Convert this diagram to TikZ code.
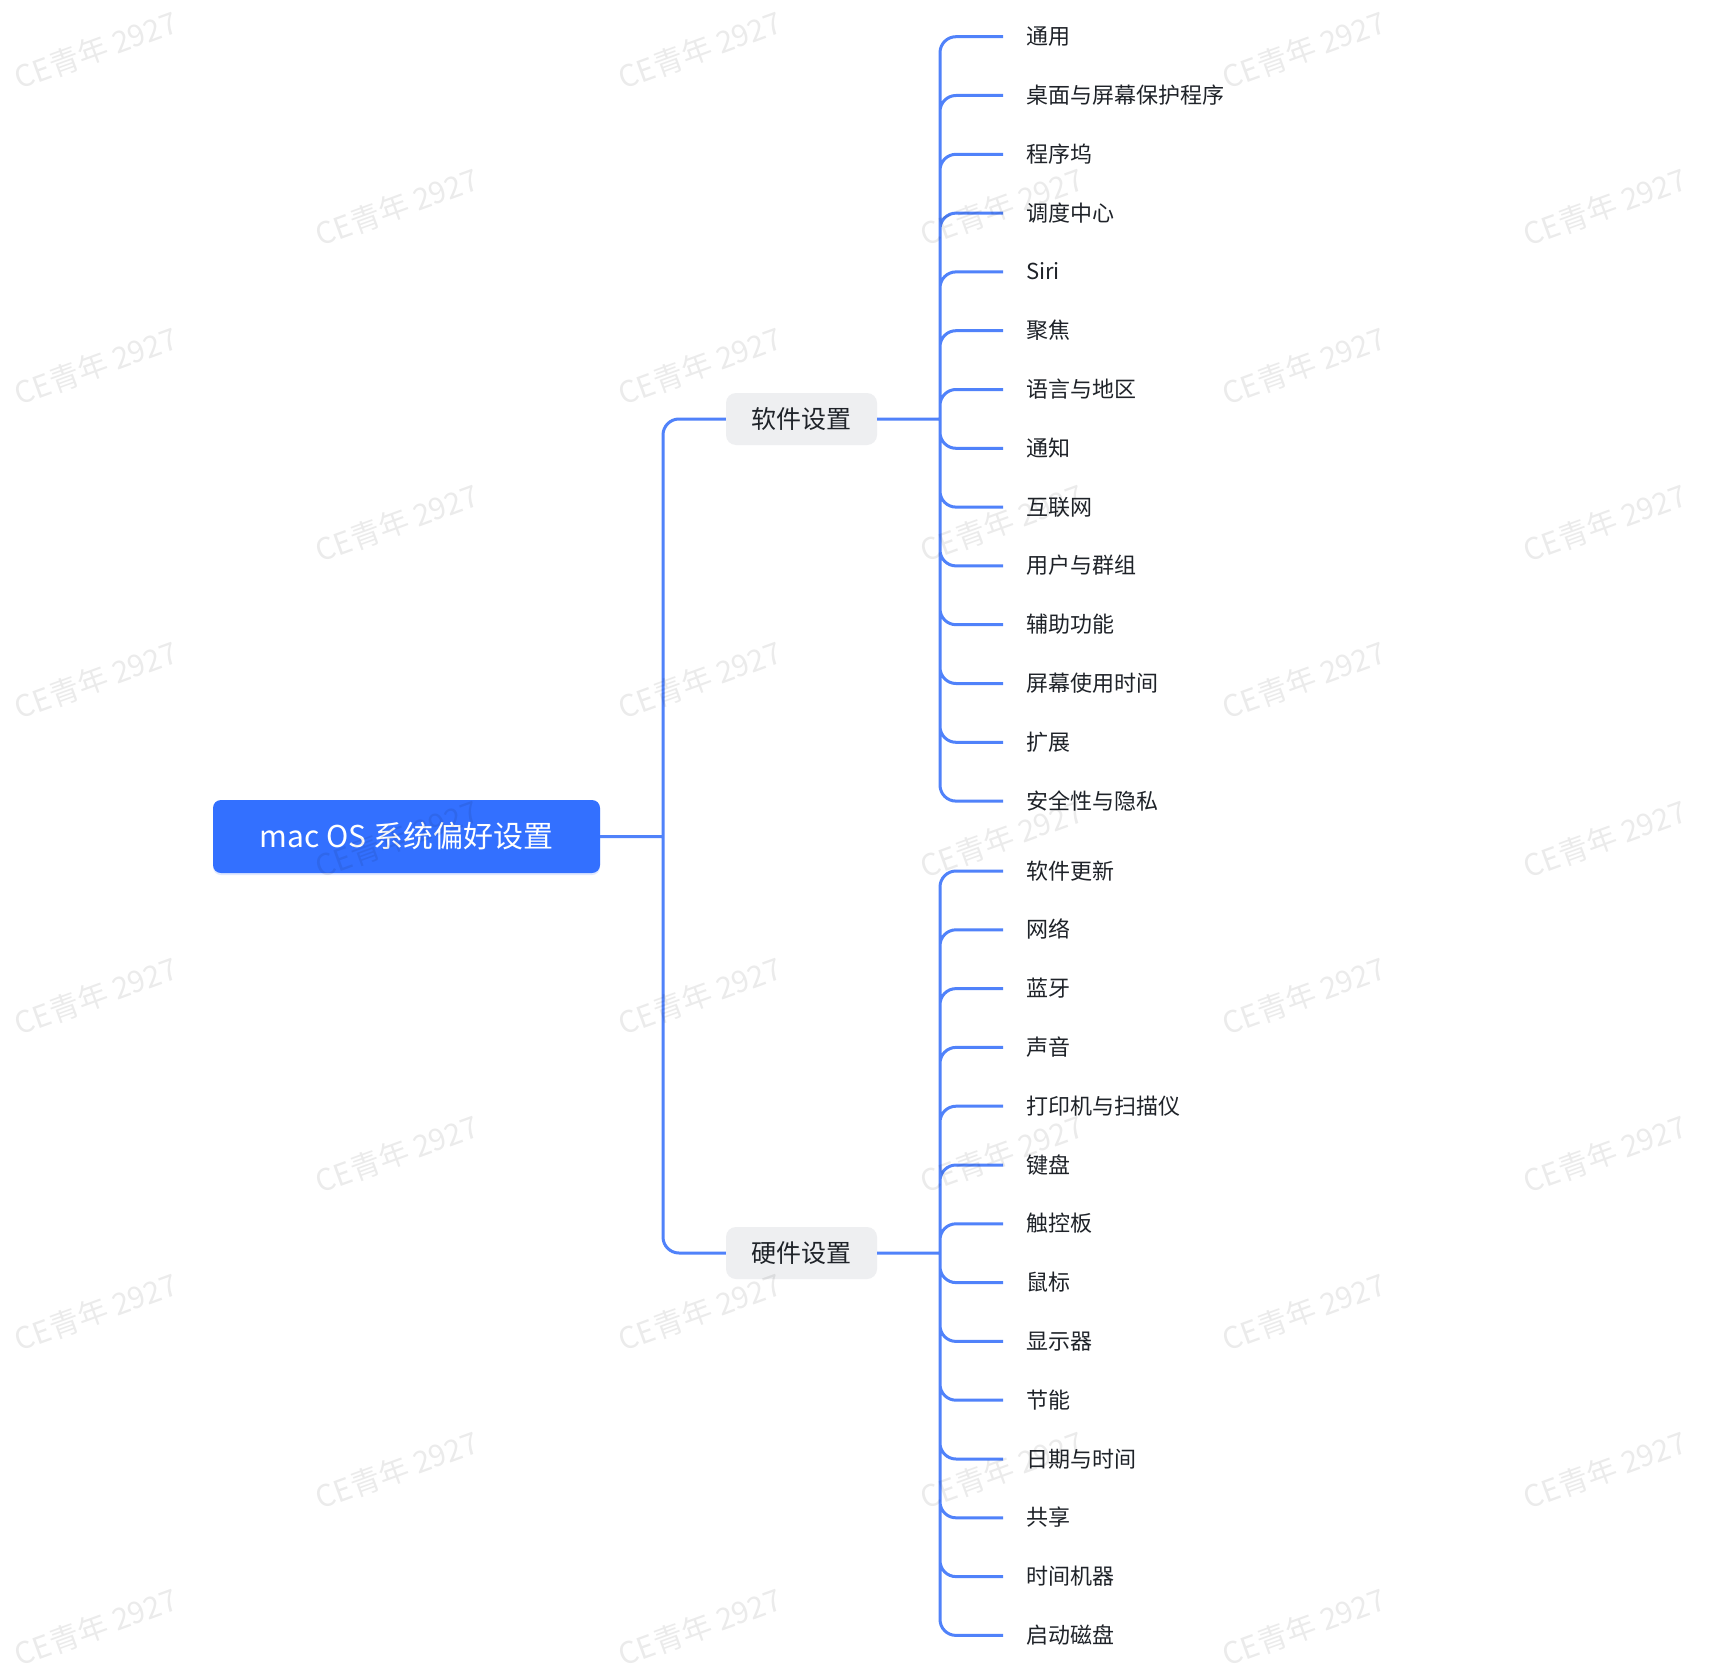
\documentclass[tikz,border=0pt]{standalone}
\usepackage{fontspec}
\setmainfont{Noto Sans CJK SC}
\usetikzlibrary{shadows}
\definecolor{linkblue}{RGB}{80,130,250}
\definecolor{rootblue}{RGB}{51,112,255}
\definecolor{subgray}{RGB}{238,239,241}
\definecolor{inkgray}{RGB}{31,35,41}
\tikzset{
  rootbox/.style={fill=rootblue, text=white, rounded corners=8pt,
    minimum width=387pt, minimum height=73pt, inner sep=0pt,
    font=\fontsize{30}{36}\selectfont,
    drop shadow={shadow xshift=0pt, shadow yshift=-2pt, opacity=0.15, fill=rootblue}},
  subbox/.style={fill=subgray, text=inkgray, rounded corners=10pt,
    minimum width=151pt, minimum height=52pt, inner sep=0pt,
    font=\fontsize{25}{30}\selectfont},
  leaf/.style={anchor=west, inner xsep=23pt, inner ysep=0pt, text=inkgray,
    text height=19pt, text depth=3pt, font=\fontsize{22}{26}\selectfont},
  link/.style={draw=linkblue, line width=3pt, rounded corners=16pt},
  wmark/.style={text=black, opacity=0.08, rotate=20, font=\fontsize{30}{34}\selectfont}
}
\begin{document}
\begin{tikzpicture}[x=1pt, y=-1pt]
  \useasboundingbox[fill=white] (0,0) rectangle (1726,1680);

  \node[rootbox] (mac) at (406.5,836.5) {mac OS 系统偏好设置};
  \node[subbox] (soft) at (801.5,419) {软件设置};
  \node[subbox] (hard) at (801.5,1253) {硬件设置};
  \coordinate (rj) at (663,836.5);
  \coordinate (sj) at (940,419);
  \coordinate (hj) at (940,1253);

  % software
  \node[leaf] (S1) at (1003,36.7) {通用};
  \node[leaf] (S2) at (1003,95.5) {桌面与屏幕保护程序};
  \node[leaf] (S3) at (1003,154.3) {程序坞};
  \node[leaf] (S4) at (1003,213.1) {调度中心};
  \node[leaf] (S5) at (1003,271.9) {Siri};
  \node[leaf] (S6) at (1003,330.7) {聚焦};
  \node[leaf] (S7) at (1003,389.5) {语言与地区};
  \node[leaf] (S8) at (1003,448.3) {通知};
  \node[leaf] (S9) at (1003,507.1) {互联网};
  \node[leaf] (S10) at (1003,565.9) {用户与群组};
  \node[leaf] (S11) at (1003,624.7) {辅助功能};
  \node[leaf] (S12) at (1003,683.5) {屏幕使用时间};
  \node[leaf] (S13) at (1003,742.3) {扩展};
  \node[leaf] (S14) at (1003,801.1) {安全性与隐私};

  % hardware
  \node[leaf] (H1) at (1003,871) {软件更新};
  \node[leaf] (H2) at (1003,929.8) {网络};
  \node[leaf] (H3) at (1003,988.6) {蓝牙};
  \node[leaf] (H4) at (1003,1047.4) {声音};
  \node[leaf] (H5) at (1003,1106.2) {打印机与扫描仪};
  \node[leaf] (H6) at (1003,1165) {键盘};
  \node[leaf] (H7) at (1003,1223.8) {触控板};
  \node[leaf] (H8) at (1003,1282.6) {鼠标};
  \node[leaf] (H9) at (1003,1341.4) {显示器};
  \node[leaf] (H10) at (1003,1400.2) {节能};
  \node[leaf] (H11) at (1003,1459) {日期与时间};
  \node[leaf] (H12) at (1003,1517.8) {共享};
  \node[leaf] (H13) at (1003,1576.6) {时间机器};
  \node[leaf] (H14) at (1003,1635.4) {启动磁盘};

  \draw[link] (mac.east) -- (rj)
  (rj) |- (soft.west)
  (rj) |- (hard.west);

  \draw[link] (soft.east) -- (sj)
  (sj) |- (S1.west)  (sj) |- (S2.west)  (sj) |- (S3.west)
  (sj) |- (S4.west)  (sj) |- (S5.west)  (sj) |- (S6.west)
  (sj) |- (S7.west)  (sj) |- (S8.west)  (sj) |- (S9.west)
  (sj) |- (S10.west) (sj) |- (S11.west) (sj) |- (S12.west)
  (sj) |- (S13.west) (sj) |- (S14.west);

  \draw[link] (hard.east) -- (hj)
  (hj) |- (H1.west)  (hj) |- (H2.west)  (hj) |- (H3.west)
  (hj) |- (H4.west)  (hj) |- (H5.west)  (hj) |- (H6.west)
  (hj) |- (H7.west)  (hj) |- (H8.west)  (hj) |- (H9.west)
  (hj) |- (H10.west) (hj) |- (H11.west) (hj) |- (H12.west)
  (hj) |- (H13.west) (hj) |- (H14.west);

  % watermark
  \foreach \y in {50,366,680,996,1312,1627}
    \foreach \x in {96,700,1304}
      \node[wmark] (wm-\x-\y) at (\x,\y) {CE青年 2927};
  \foreach \y in {207,523,839,1154,1470}
    \foreach \x in {397,1002,1605}
      \node[wmark] (wm-\x-\y) at (\x,\y) {CE青年 2927};
\end{tikzpicture}
\end{document}
